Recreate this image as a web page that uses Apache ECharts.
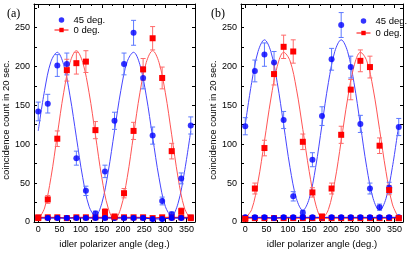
<!DOCTYPE html>
<html><head><meta charset="utf-8">
<script src="https://cdn.jsdelivr.net/npm/echarts@6/dist/echarts.min.js"></script>
<style>html,body{margin:0;padding:0;background:#fff}#c{width:411px;height:254px}</style>
</head><body><div id="c"></div>
<script>
// measurement angles (deg.)
const angles = [0,22.5,45,67.5,90,112.5,135,157.5,180,202.5,225,247.5,270,292.5,315,337.5,360];
// fit-curve sample angles
const fitAngles = [0,15,30,45,60,75,90,105,120,135,150,165,180,195,210,225,240,255,270,285,300,315,330,345,360];

// panel (a)
const aBlue    = [142,152,201,203,82,40,11,65,130,203,243,185,111,27,10,56,124];
const aBlueErr = [12,12,14,14,9,6,3,8,11,14,16,14,11,5,3,7,11];
const aRed     = [5,29,107,195,204,206,118,13,7,37,117,196,236,185,91,14,5];
const aRedErr  = [2,5,10,14,14,14,11,4,3,6,11,14,15,14,10,4,2];
const aBlueAcc = [5,5,5,5,5,5,5,5,5,5,5,5,4,4,5,5,5];
const aRedAcc  = [6,6,6,5,6,6,6,6,6,6,6,6,5,6,6,6,6];
const aBlueFit = [117,169,206,218,202,162,109,57,20,8,24,64,117,169,206,218,202,162,109,57,20,8,24,64,117];
const aRedFit  = [3,18,57,112,166,205,220,205,166,112,57,18,3,18,57,112,166,205,220,205,166,112,57,18,3];

// panel (b)
const bBlue    = [123,194,215,205,131,33,12,80,136,209,253,199,126,43,19,44,122];
const bBlueErr = [11,14,15,14,11,6,3,9,12,14,16,14,11,7,4,7,11];
const bRed     = [4,43,95,190,225,219,103,38,7,43,112,170,207,199,98,41,5];
const bRedErr  = [2,7,10,14,15,15,10,6,3,7,11,13,14,14,10,6,2];
const bBlueAcc = [6,6,6,5,6,6,6,6,6,6,6,6,6,6,6,6,6];
const bRedAcc  = [5,5,5,5,5,5,5,5,5,5,5,5,5,5,5,5,5];
const bBlueFit = [125,179,219,234,219,179,125,70,30,15,30,70,125,179,219,234,219,179,125,70,30,15,30,70,125];
const bRedFit  = [5,16,52,104,158,200,218,207,171,119,65,23,5,16,52,104,158,200,218,207,171,119,65,23,5];

const xTitle = 'idler polarizer angle (deg.)';
const yTitle = 'coincidence count in 20 sec.';
const panelLabels = ['(a)','(b)'];

const BLUE = '#0000ff', RED = '#ff0000';
const BLUE_FIT = '#4646ff', RED_FIT = '#ff5555';
const BLUE_ERR = '#5c78ff', RED_ERR = '#ff6b6b';
const FONT = 'Liberation Sans, Arial, sans-serif';

const pairs = (xs, ys) => xs.map((x, i) => [x, ys[i]]);
const errData = (xs, ys, es) => xs.map((x, i) => [x, ys[i] - es[i], ys[i] + es[i]]);

function errSeries(idx, ys, es, color) {
  return {
    type: 'custom', xAxisIndex: idx, yAxisIndex: idx, silent: true, z: 3,
    encode: { x: 0, y: [1, 2] },
    data: errData(angles, ys, es),
    renderItem: function (params, api) {
      const x = api.value(0);
      const p1 = api.coord([x, api.value(1)]);
      const p2 = api.coord([x, api.value(2)]);
      const w = 2.5;
      const st = { stroke: color, lineWidth: 1 };
      return { type: 'group', children: [
        { type: 'line', shape: { x1: p1[0], y1: p1[1], x2: p2[0], y2: p2[1] }, style: st },
        { type: 'line', shape: { x1: p1[0] - w, y1: p1[1], x2: p1[0] + w, y2: p1[1] }, style: st },
        { type: 'line', shape: { x1: p2[0] - w, y1: p2[1], x2: p2[0] + w, y2: p2[1] }, style: st }
      ] };
    }
  };
}

function panelSeries(idx, blue, blueErr, red, redErr, blueAcc, redAcc, blueFit, redFit) {
  return [
    { type: 'line', name: 'fitB', xAxisIndex: idx, yAxisIndex: idx, data: pairs(fitAngles, blueFit), smooth: 0.35,
      symbol: 'none', lineStyle: { color: BLUE_FIT, width: 1 }, z: 2, silent: true },
    { type: 'line', name: 'fitR', xAxisIndex: idx, yAxisIndex: idx, data: pairs(fitAngles, redFit), smooth: 0.35,
      symbol: 'none', lineStyle: { color: RED_FIT, width: 1 }, z: 2, silent: true },
    errSeries(idx, blue, blueErr, BLUE_ERR),
    errSeries(idx, red, redErr, RED_ERR),
    { type: 'line', name: 'accR', xAxisIndex: idx, yAxisIndex: idx, data: pairs(angles, redAcc),
      symbol: 'rect', symbolSize: 6, itemStyle: { color: RED }, lineStyle: { color: RED, width: 1 }, z: 4, silent: true },
    { type: 'line', name: 'accB', xAxisIndex: idx, yAxisIndex: idx, data: pairs(angles, blueAcc),
      symbol: 'circle', symbolSize: 6, itemStyle: { color: BLUE }, lineStyle: { color: BLUE, width: 1 }, z: 4, silent: true },
    { type: 'scatter', name: '45 deg.', xAxisIndex: idx, yAxisIndex: idx, data: pairs(angles, blue),
      symbol: 'circle', symbolSize: 6, itemStyle: { color: BLUE }, z: 5 },
    { type: 'line', name: '0 deg.', xAxisIndex: idx, yAxisIndex: idx, data: pairs(angles, red),
      symbol: 'rect', symbolSize: 6, showSymbol: true, itemStyle: { color: RED },
      lineStyle: { color: RED, width: 0, opacity: 0 }, z: 6 }
  ];
}

function xAx(grid, pos, labels) {
  return {
    type: 'value', gridIndex: grid, position: pos, min: -10, max: 370, splitNumber: 8,
    axisLine: { show: true, onZero: false, lineStyle: { color: '#000', width: 1 } },
    axisTick: { show: true, inside: true, length: 4, lineStyle: { color: '#000' } },
    minorTick: { show: true, splitNumber: 2, length: 2, lineStyle: { color: '#000' } },
    splitLine: { show: false },
    axisLabel: { show: labels, showMinLabel: false, showMaxLabel: false, color: '#000', fontSize: 9, fontFamily: FONT, margin: 3 },
    name: labels ? xTitle : '', nameLocation: 'middle', nameGap: 17,
    nameTextStyle: { color: '#000', fontSize: 9.5, fontFamily: FONT }
  };
}
function yAx(grid, pos, labels) {
  return {
    type: 'value', gridIndex: grid, position: pos, min: 0, max: 280, interval: 25,
    axisLine: { show: true, onZero: false, lineStyle: { color: '#000', width: 1 } },
    axisTick: { show: true, inside: true, length: 3, lineStyle: { color: '#000' } },
    splitLine: { show: false },
    axisLabel: { show: labels, color: '#000', fontSize: 9, fontFamily: FONT, margin: 4,
      formatter: v => (v % 50 === 0 ? String(v) : '') },
    name: labels ? yTitle : '', nameLocation: 'middle', nameGap: 20,
    nameTextStyle: { color: '#000', fontSize: 9.5, fontFamily: FONT, padding: [0, 14, 0, 0] }
  };
}

const legendBase = {
  orient: 'vertical', itemWidth: 14, itemHeight: 5.5, selectedMode: false,
  textStyle: { color: '#000', fontSize: 9.5, fontFamily: FONT, padding: [0, 0, 0, 0] },
  data: [ { name: '45 deg.' }, { name: '0 deg.', lineStyle: { width: 1, opacity: 1, color: RED } } ]
};

const option = {
  animation: false,
  backgroundColor: '#fff',
  title: [
    { text: panelLabels[0], left: 2, top: 3, textStyle: { fontFamily: 'Liberation Serif, serif', fontSize: 12, fontWeight: 'normal', color: '#000' } },
    { text: panelLabels[1], left: 206, top: 3, textStyle: { fontFamily: 'Liberation Serif, serif', fontSize: 12, fontWeight: 'normal', color: '#000' } }
  ],
  legend: [
    Object.assign({}, legendBase, { left: 49, top: 10, itemGap: 0 }),
    Object.assign({}, legendBase, { left: 351, top: 11, itemGap: 2 })
  ],
  grid: [
    { left: 34, top: 4, width: 161, height: 219 },
    { left: 241, top: 4, width: 162, height: 219 }
  ],
  xAxis: [ xAx(0, 'bottom', true), xAx(1, 'bottom', true), xAx(0, 'top', false), xAx(1, 'top', false) ],
  yAxis: [ yAx(0, 'left', true), yAx(1, 'left', true), yAx(0, 'right', false), yAx(1, 'right', false) ],
  series: [].concat(
    panelSeries(0, aBlue, aBlueErr, aRed, aRedErr, aBlueAcc, aRedAcc, aBlueFit, aRedFit),
    panelSeries(1, bBlue, bBlueErr, bRed, bRedErr, bBlueAcc, bRedAcc, bBlueFit, bRedFit)
  )
};

const chart = echarts.init(document.getElementById('c'), null, { renderer: 'canvas' });
chart.setOption(option);
</script>
</body></html>
